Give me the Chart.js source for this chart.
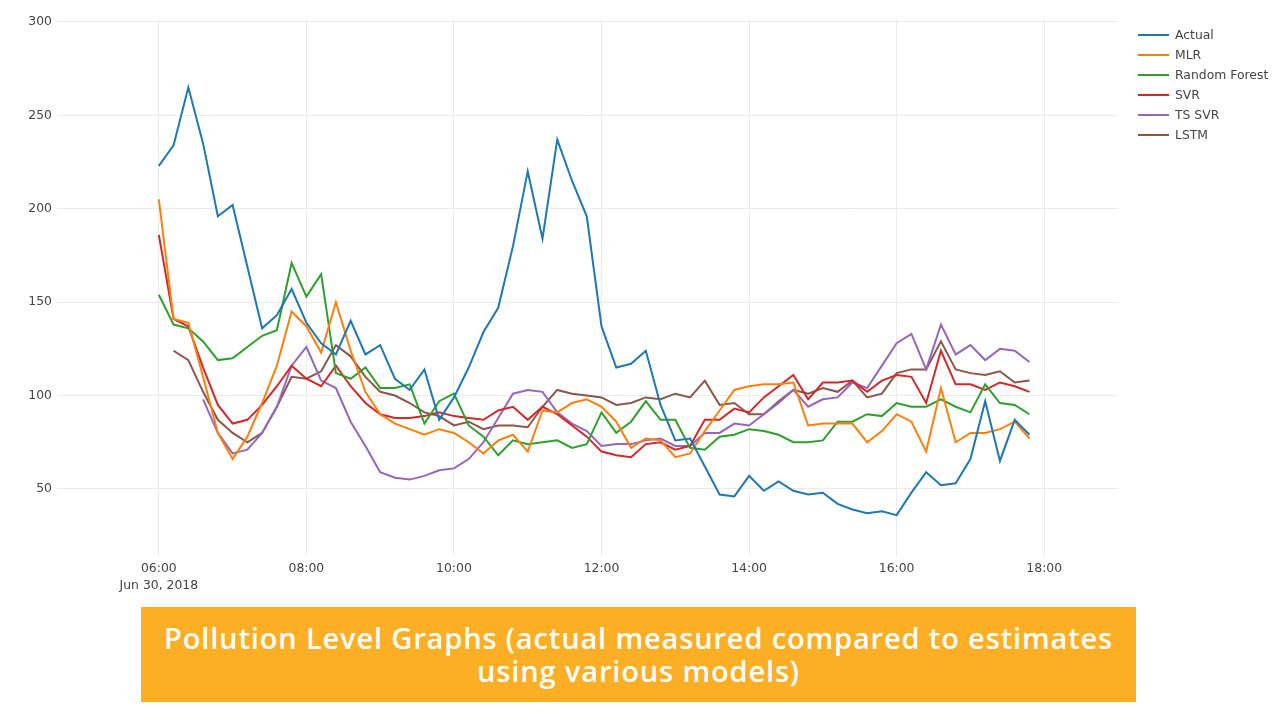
<!DOCTYPE html>
<html>
<head>
<meta charset="utf-8">
<script src="https://cdn.jsdelivr.net/npm/chart.js@4"></script>
<style>
  html, body { margin: 0; padding: 0; background: #fff; width: 1280px; height: 720px; overflow: hidden; }
  #wrap { position: absolute; left: 0; top: 0; width: 1280px; height: 600px; }
  #legend { position: absolute; left: 1138px; top: 25px; font-family: "DejaVu Sans", Verdana, sans-serif; font-size: 12.4px; color: #444; }
  .lg-row { position: absolute; left: 0; height: 20px; width: 140px; white-space: nowrap; }
  .lg-line { position: absolute; left: 0; top: 9px; width: 31px; height: 2px; }
  .lg-text { position: absolute; left: 37px; top: 2px; line-height: 16px; }
  #banner { position: absolute; left: 141px; top: 607px; width: 995px; height: 95px; background: #FCAE24; }
  #banner div { position: absolute; left: 0; width: 995px; text-align: center; color: #fff; font-family: "Open Sans", sans-serif; font-weight: 600; font-size: 29px; line-height: 33px; white-space: nowrap; }
</style>
</head>
<body>
<div id="wrap"><canvas id="c" width="1280" height="600"></canvas></div>
<div id="legend"></div>
<div id="banner">
  <div id="bl1" style="top:14px">Pollution Level Graphs (actual measured compared to estimates</div>
  <div id="bl2" style="top:47px">using various models)</div>
</div>
<script>
// ---- data ----
const times = ["06:00","06:12","06:24","06:36","06:48","07:00","07:12","07:24","07:36","07:48",
  "08:00","08:12","08:24","08:36","08:48","09:00","09:12","09:24","09:36","09:48",
  "10:00","10:12","10:24","10:36","10:48","11:00","11:12","11:24","11:36","11:48",
  "12:00","12:12","12:24","12:36","12:48","13:00","13:12","13:24","13:36","13:48",
  "14:00","14:12","14:24","14:36","14:48","15:00","15:12","15:24","15:36","15:48",
  "16:00","16:12","16:24","16:36","16:48","17:00","17:12","17:24","17:36","17:48"];

const seriesNames = ["Actual","MLR","Random Forest","SVR","TS SVR","LSTM"];

const actual = [223,234,265,235,196,202,169,136,143,157,
  139,128,122,140,122,127,109,103,114,87,
  99,115,134,147,180,220,184,237,215,196,
  137,115,117,124,95,76,77,62,47,46,
  57,49,54,49,47,48,42,39,37,38,
  36,48,59,52,53,66,97,65,87,79];

const mlr = [205,141,139,110,80,66,78,96,116,145,
  137,123,150,124,102,90,85,82,79,82,
  80,75,69,76,79,70,92,91,96,98,
  94,86,72,77,76,67,69,81,92,103,
  105,106,106,107,84,85,85,85,75,81,
  90,86,70,104,75,80,80,82,86,77];

const randomForest = [154,138,136,129,119,120,126,132,135,171,
  153,165,112,109,115,104,104,106,85,97,
  101,84,78,68,76,74,75,76,72,74,
  91,80,86,97,87,87,72,71,78,79,
  82,81,79,75,75,76,86,86,90,89,
  96,94,94,98,94,91,106,96,95,90];

const svr = [186,141,137,115,95,85,87,95,105,116,
  109,105,116,105,96,90,88,88,89,91,
  89,88,87,92,94,87,94,90,84,78,
  70,68,67,74,75,71,73,87,87,93,
  91,99,105,111,98,107,107,108,102,108,
  111,110,96,124,106,106,103,107,105,102];

const tsSvr = [null,null,null,98,80,69,71,80,94,116,
  126,108,104,86,73,59,56,55,57,60,
  61,66,75,88,101,103,102,91,85,81,
  73,74,74,76,77,73,73,80,80,85,
  84,90,96,103,94,98,99,107,104,116,
  128,133,114,138,122,127,119,125,124,118];

const lstm = [null,124,119,102,87,80,75,80,94,110,
  109,113,127,121,110,102,100,96,91,89,
  84,86,82,84,84,83,94,103,101,100,
  99,95,96,99,98,101,99,108,95,96,
  90,90,97,103,101,104,102,108,99,101,
  112,114,114,129,114,112,111,113,107,108];

const xTickHours = [6,8,10,12,14,16,18];
const xTickDateLabel = "Jun 30, 2018";
const yTicks = [50,100,150,200,250,300];
const colors = ["#1f77b4","#ff7f0e","#2ca02c","#d62728","#9467bd","#8c564b"];

// ---- build ----
const toHours = t => { const [h,m] = t.split(":").map(Number); return h + m/60; };
const allSeries = [actual, mlr, randomForest, svr, tsSvr, lstm];
const pad2 = n => String(n).padStart(2,"0");

const datasets = allSeries.map((vals, k) => ({
  label: seriesNames[k],
  data: times.map((t, i) => ({ x: toHours(t), y: vals[i] })),
  borderColor: colors[k],
  backgroundColor: colors[k],
  borderWidth: 2,
  pointRadius: 0,
  pointHoverRadius: 0,
  tension: 0,
  fill: false,
  spanGaps: false
}));

const tickFont = { family: '"DejaVu Sans", Verdana, sans-serif', size: 12.4, lineHeight: 1.38 };

new Chart(document.getElementById("c"), {
  type: "line",
  data: { datasets },
  options: {
    responsive: false,
    animation: false,
    devicePixelRatio: 1,
    layout: { padding: { left: 0, top: 19, right: 162, bottom: 0 } },
    plugins: { legend: { display: false }, tooltip: { enabled: false } },
    scales: {
      x: {
        type: "linear",
        min: 4.62, max: 19.0,
        afterBuildTicks: s => { s.ticks = xTickHours.map(v => ({ value: v })); },
        afterFit: s => { s.height = 44; },
        grid: { color: "#ebebeb", lineWidth: 1, drawTicks: false },
        border: { display: false },
        ticks: {
          color: "#444", font: tickFont, padding: 4, maxRotation: 0, autoSkip: false,
          callback: (v, i) => {
            const lbl = pad2(v) + ":00";
            return i === 0 ? [lbl, xTickDateLabel] : lbl;
          }
        }
      },
      y: {
        min: 14.1, max: 301.6,
        afterBuildTicks: s => { s.ticks = yTicks.map(v => ({ value: v })); },
        afterFit: s => { s.width = 57; },
        grid: { color: "#ebebeb", lineWidth: 1, drawTicks: false },
        border: { display: false },
        ticks: { color: "#444", font: tickFont, padding: 5 }
      }
    }
  }
});

// legend (HTML, from the same datasets)
const lg = document.getElementById("legend");
datasets.forEach((d, i) => {
  const row = document.createElement("div");
  row.className = "lg-row";
  row.style.top = (i * 19.9) + "px";
  row.innerHTML = '<div class="lg-line" style="background:' + d.borderColor + '"></div><div class="lg-text"></div>';
  row.querySelector(".lg-text").textContent = d.label;
  lg.appendChild(row);
});

// fit banner text width
(function fitBanner() {
  const l1 = document.getElementById("bl1"), l2 = document.getElementById("bl2");
  const cv = document.createElement("canvas").getContext("2d");
  cv.font = '600 29px "Open Sans", sans-serif';
  const target = 949;
  const txt = l1.textContent;
  const w = cv.measureText(txt).width;
  const ls = (target - w) / txt.length;
  l1.style.letterSpacing = ls + "px";
  l2.style.letterSpacing = ls + "px";
})();
</script>
</body>
</html>
